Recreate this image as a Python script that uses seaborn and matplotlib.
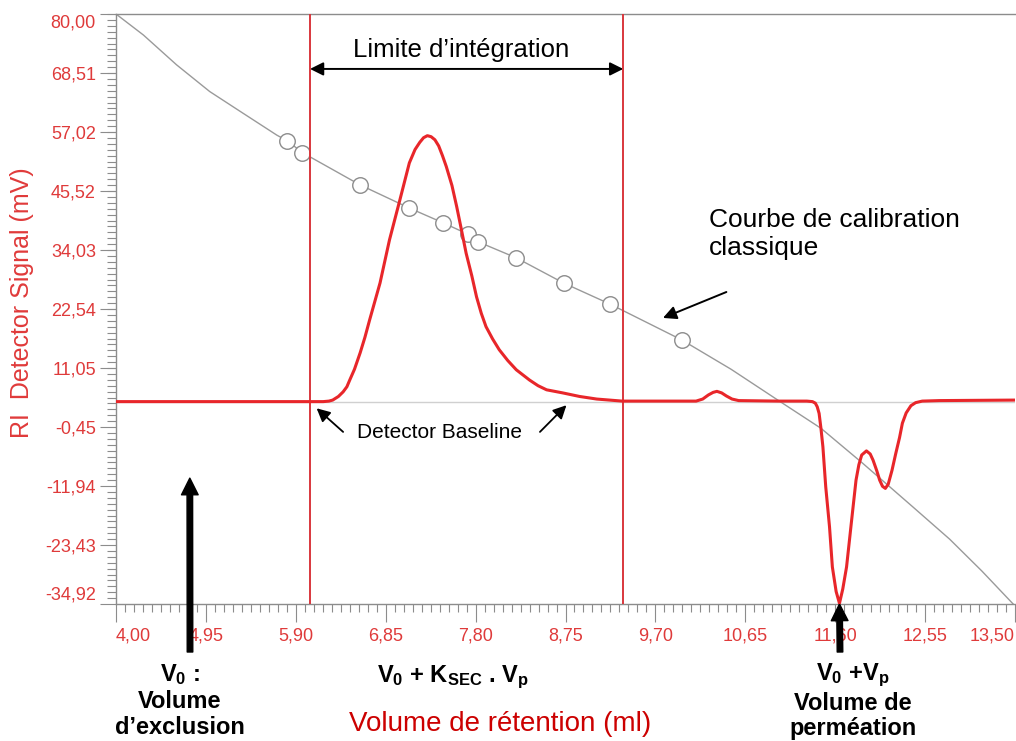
import numpy as np
import matplotlib
matplotlib.use("Agg")
import matplotlib.pyplot as plt
import seaborn as sns
from matplotlib.ticker import FixedLocator

# RI detector trace
ret_vol = [4.00, 5.00, 6.05, 6.19, 6.25, 6.29, 6.35, 6.40, 6.44, 6.47, 6.52, 6.58, 6.63, 6.68,
           6.79, 6.89, 7.00, 7.10, 7.16, 7.21, 7.25, 7.29, 7.33, 7.37, 7.41, 7.45, 7.49, 7.55,
           7.60, 7.65, 7.70, 7.76, 7.81, 7.86, 7.91, 7.98, 8.05, 8.14, 8.23, 8.37, 8.46, 8.55,
           8.72, 8.90, 9.08, 9.35, 9.70, 10.13, 10.20, 10.26, 10.31, 10.35, 10.40, 10.45, 10.51,
           10.58, 11.00, 11.30, 11.36, 11.39, 11.41, 11.43, 11.45, 11.47, 11.50, 11.54, 11.57,
           11.61, 11.645, 11.68, 11.72, 11.77, 11.82, 11.85, 11.88, 11.93, 11.97, 12.00, 12.04,
           12.07, 12.10, 12.13, 12.16, 12.20, 12.24, 12.28, 12.31, 12.35, 12.40, 12.45, 12.52,
           12.70, 13.50]
ri_signal = [4.5, 4.5, 4.5, 4.5, 4.6, 4.8, 5.5, 6.4, 7.4, 8.7, 10.8, 14.0, 17.0, 20.4,
             27.6, 36.0, 43.8, 51.0, 53.6, 55.0, 55.9, 56.3, 56.1, 55.5, 54.3, 52.4, 50.3, 46.6,
             42.5, 38.0, 33.4, 29.0, 24.9, 21.7, 19.1, 16.7, 14.6, 12.5, 10.7, 8.7, 7.6, 6.8,
             6.2, 5.5, 5.0, 4.6, 4.6, 4.6, 5.0, 5.8, 6.3, 6.5, 6.2, 5.6, 5.0,
             4.7, 4.6, 4.6, 4.5, 4.2, 3.5, 2.2, -0.8, -4.3, -12.1, -19.9, -27.7,
             -32.5, -34.8, -32.0, -27.7, -19.2, -10.8, -7.8, -5.9, -5.1, -5.7, -6.9, -9.0,
             -10.8, -12.0, -12.4, -11.6, -8.9, -5.6, -2.5, 0.3, 2.3, 3.7, 4.3, 4.6,
             4.7, 4.8]

# calibration curve and standards
cal_vol = [4.00, 4.29, 4.64, 4.99, 5.34, 5.70, 5.81, 5.97, 6.58, 7.10, 7.46, 7.72, 7.83, 8.23,
           8.73, 9.22, 9.98, 10.50, 11.01, 11.45, 11.89, 12.42, 12.81, 13.15, 13.50]
cal_curve = [80.0, 75.9, 70.1, 64.9, 60.7, 56.4, 55.3, 53.0, 46.7, 42.2, 39.3, 37.1, 35.6, 32.5,
             27.6, 23.5, 16.5, 10.8, 4.6, -0.7, -7.5, -16.0, -22.3, -28.5, -35.3]
std_vol = [5.81, 5.97, 6.58, 7.10, 7.46, 7.72, 7.83, 8.23, 8.73, 9.22, 9.98]
std_val = [55.3, 53.0, 46.7, 42.2, 39.3, 37.1, 35.6, 32.5, 27.6, 23.5, 16.5]

int_limits = [6.05, 9.36]
baseline = 4.4
v0 = 4.78
v0_vp = 11.645

x_ticks = [4.00, 4.95, 5.90, 6.85, 7.80, 8.75, 9.70, 10.65, 11.60, 12.55, 13.50]
x_labels = ["4,00", "4,95", "5,90", "6,85", "7,80", "8,75", "9,70", "10,65", "11,60", "12,55", "13,50"]
y_ticks = [-34.92, -23.43, -11.94, -0.45, 11.05, 22.54, 34.03, 45.52, 57.02, 68.51, 80.00]
y_labels = ["-34,92", "-23,43", "-11,94", "-0,45", "11,05", "22,54", "34,03", "45,52", "57,02", "68,51", "80,00"]

sns.set_theme(style="ticks")
plt.rcParams["font.family"] = ["Liberation Sans", "DejaVu Sans"]
plt.rcParams["mathtext.fontset"] = "custom"
plt.rcParams["mathtext.rm"] = "Liberation Sans"
plt.rcParams["mathtext.bf"] = "Liberation Sans:bold"
plt.rcParams["mathtext.it"] = "Liberation Sans:italic"

W, H = 1016, 741
fig = plt.figure(figsize=(W / 100, H / 100), dpi=100)
ax = fig.add_axes([116 / W, 137 / H, 899 / W, 590 / H])

ax.axhline(baseline, color="#d0d0d0", lw=1, zorder=1)
sns.lineplot(x=cal_vol, y=cal_curve, ax=ax, color="#9a9a9a", lw=1, estimator=None, sort=False, zorder=2)
sns.scatterplot(x=std_vol, y=std_val, ax=ax, s=125, marker="o", color="white",
                edgecolor="#8c8c8c", linewidth=1, zorder=3)
for v in int_limits:
    ax.axvline(v, color="#d9373d", lw=1.4, zorder=4)
sns.lineplot(x=ret_vol, y=ri_signal, ax=ax, color="#e8262a", lw=2.2, estimator=None, sort=False, zorder=5)

ax.set_xlim(4.00, 13.50)
ax.set_ylim(-34.92, 80.00)
ax.set_xlabel("")
ax.set_ylabel("")

ax.set_xticks(x_ticks)
ax.set_xticklabels(x_labels)
ax.set_yticks(y_ticks)
ax.set_yticklabels(y_labels)
ax.xaxis.set_minor_locator(FixedLocator(np.arange(4.0, 13.51, 0.095)))
ax.yaxis.set_minor_locator(FixedLocator(np.arange(-34.92, 80.01, 1.149)))
tick_red = "#df3a3a"
ax.tick_params(axis="x", which="major", length=13, width=0.8, color="#8c8c8c",
               labelsize=13, labelcolor=tick_red, pad=4)
ax.tick_params(axis="x", which="minor", length=6, width=0.8, color="#8c8c8c")
ax.tick_params(axis="y", which="major", length=11.5, width=0.8, color="#8c8c8c",
               labelsize=13, labelcolor=tick_red, pad=3)
ax.tick_params(axis="y", which="minor", length=6.5, width=0.8, color="#8c8c8c")
xl = ax.get_xticklabels()
xl[0].set_ha("left")
xl[-1].set_ha("right")
yl = ax.get_yticklabels()
yl[0].set_va("bottom")
yl[-1].set_va("top")

for s in ["left", "bottom", "top"]:
    ax.spines[s].set_color("#8c8c8c")
    ax.spines[s].set_linewidth(1)
ax.spines["right"].set_visible(False)

# annotations inside the plot
ax.annotate("", xy=(int_limits[0], 69.3), xytext=(int_limits[1], 69.3),
            arrowprops=dict(arrowstyle="<|-|>", color="black", lw=1.4, mutation_scale=20,
                            shrinkA=0, shrinkB=0))
ax.text(7.65, 73.0, "Limite d\u2019int\u00e9gration", ha="center", va="center", fontsize=18.5, color="black")

ax.text(10.27, 37.1, "Courbe de calibration\nclassique", ha="left", va="center",
        fontsize=19, linespacing=1.2, color="black")
ax.annotate("", xy=(9.78, 20.8), xytext=(10.45, 25.85),
            arrowprops=dict(arrowstyle="-|>", color="black", lw=1.4, mutation_scale=20,
                            shrinkA=0, shrinkB=0))

ax.text(7.42, -1.5, "Detector Baseline", ha="center", va="center", fontsize=15, color="black")
ax.annotate("", xy=(6.12, 3.2), xytext=(6.40, -1.4),
            arrowprops=dict(arrowstyle="-|>", color="black", lw=1.3, mutation_scale=20,
                            shrinkA=0, shrinkB=0))
ax.annotate("", xy=(8.76, 3.8), xytext=(8.48, -1.4),
            arrowprops=dict(arrowstyle="-|>", color="black", lw=1.3, mutation_scale=20,
                            shrinkA=0, shrinkB=0))

big = dict(width=4, headwidth=12, headlength=12, facecolor="black", edgecolor="black", shrink=0)
ax.annotate("", xy=(v0, -10.4), xytext=(190, 89), textcoords="figure pixels",
            arrowprops=big, annotation_clip=False)
ax.annotate("", xy=(v0_vp, -34.92), xytext=(840, 89), textcoords="figure pixels",
            arrowprops=big, annotation_clip=False)


def ftext(px, py, s, **kw):
    fig.text(px / W, 1 - py / H, s, ha="center", va="center", **kw)


bold = dict(fontsize=17, fontweight="bold", color="black")
ftext(180, 675, r"$\mathbf{V_0}$ :", **bold)
ftext(180, 702, "Volume", **bold)
ftext(180, 728, "d\u2019exclusion", **bold)
ftext(453, 677, r"$\mathbf{V_0}$ + $\mathbf{K_{SEC}}$ . $\mathbf{V_p}$", **bold)
ftext(853, 675, r"$\mathbf{V_0}$ +$\mathbf{V_p}$", **bold)
ftext(853, 703, "Volume de", **bold)
ftext(853, 728, "perm\u00e9ation", **bold)

ftext(500, 724, "Volume de r\u00e9tention (ml)", fontsize=20, color="#cc0000")
ftext(22, 303, "RI  Detector Signal (mV)", fontsize=18, color="#e03a3a", rotation=90)

fig.savefig("out.png", dpi=100)
